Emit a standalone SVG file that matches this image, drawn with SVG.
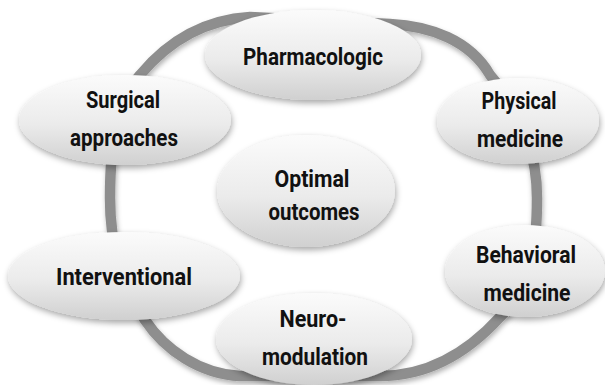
<svg xmlns="http://www.w3.org/2000/svg" width="605" height="385" viewBox="0 0 605 385">
  <defs>
    <linearGradient id="bubble" x1="0" y1="0" x2="0" y2="1">
      <stop offset="0" stop-color="#fbfbfb"/>
      <stop offset="0.55" stop-color="#ebebeb"/>
      <stop offset="1" stop-color="#d0d0d0"/>
    </linearGradient>
    <filter id="shadow" x="-20%" y="-20%" width="140%" height="150%">
      <feDropShadow dx="1" dy="3" stdDeviation="3" flood-color="#000" flood-opacity="0.35"/>
    </filter>
    <filter id="ringShadow" x="-10%" y="-10%" width="120%" height="120%">
      <feDropShadow dx="1" dy="3" stdDeviation="2.5" flood-color="#000" flood-opacity="0.3"/>
    </filter>
  </defs>
  <style>
    .node ellipse { fill: url(#bubble); filter: url(#shadow); }
    .node text { font-family: Roboto, "Noto Sans", "DejaVu Sans", sans-serif; font-weight: bold; font-size: 24px; fill: #111; text-anchor: middle; }
    .ring { fill: none; stroke: #8e8e8e; stroke-width: 10.5; filter: url(#ringShadow); }
  </style>

  <rect width="605" height="385" fill="#ffffff"/>

  <!-- connecting loop behind the nodes -->
  <g id="connectors">
    <path class="ring" d="M 110 198 C 110 140, 118 100, 140 75 C 165 45, 200 20, 250 17 L 390 24 C 430 26, 470 40, 490 75 C 520 110, 537 150, 537 198 C 537 250, 530 290, 500 317 C 470 350, 430 376, 380 376 L 240 376 C 200 374, 165 350, 145 320 C 125 290, 110 250, 110 198 Z"/>
  </g>

  <g id="pharmacologic" class="node">
    <ellipse cx="313" cy="55" rx="108" ry="45"/>
    <text x="313" y="65" textLength="140" lengthAdjust="spacingAndGlyphs">Pharmacologic</text>
  </g>

  <g id="physical-medicine" class="node">
    <ellipse cx="518" cy="121" rx="81" ry="43"/>
    <text x="519" y="109" textLength="75" lengthAdjust="spacingAndGlyphs">Physical</text>
    <text x="520" y="147" textLength="86" lengthAdjust="spacingAndGlyphs">medicine</text>
  </g>

  <g id="behavioral-medicine" class="node">
    <ellipse cx="525" cy="271" rx="80" ry="46"/>
    <text x="526" y="263" textLength="100" lengthAdjust="spacingAndGlyphs">Behavioral</text>
    <text x="527" y="301" textLength="87" lengthAdjust="spacingAndGlyphs">medicine</text>
  </g>

  <g id="interventional" class="node">
    <ellipse cx="124" cy="276" rx="116" ry="44"/>
    <text x="124" y="285" textLength="136" lengthAdjust="spacingAndGlyphs">Interventional</text>
  </g>

  <g id="surgical-approaches" class="node">
    <ellipse cx="125" cy="120" rx="106" ry="45"/>
    <text x="123" y="108" textLength="74" lengthAdjust="spacingAndGlyphs">Surgical</text>
    <text x="124" y="146" textLength="108" lengthAdjust="spacingAndGlyphs">approaches</text>
  </g>

  <g id="neuromodulation" class="node">
    <ellipse cx="314" cy="339" rx="98" ry="46"/>
    <text x="313" y="327" textLength="67" lengthAdjust="spacingAndGlyphs">Neuro-</text>
    <text x="315" y="365" textLength="106" lengthAdjust="spacingAndGlyphs">modulation</text>
  </g>

  <g id="optimal-outcomes" class="node">
    <ellipse cx="306" cy="191" rx="89" ry="56"/>
    <text x="312" y="187" textLength="75" lengthAdjust="spacingAndGlyphs">Optimal</text>
    <text x="314" y="220" textLength="91" lengthAdjust="spacingAndGlyphs">outcomes</text>
  </g>
</svg>
